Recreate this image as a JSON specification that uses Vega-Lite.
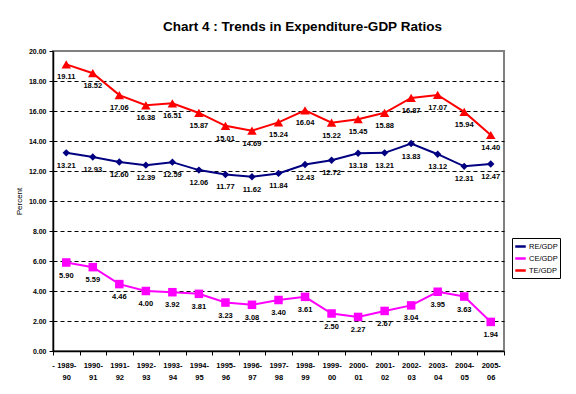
{
  "$schema": "https://vega.github.io/schema/vega-lite/v6.json",
  "autosize": "none",
  "width": 451,
  "height": 300,
  "padding": {"left": 53, "top": 51, "right": 72, "bottom": 43},
  "background": "white",
  "title": {
    "text": "Chart 4 : Trends in Expenditure-GDP Ratios",
    "font": "Liberation Sans",
    "fontSize": 13.5,
    "fontWeight": "bold",
    "color": "black",
    "anchor": "middle",
    "dx": 24,
    "offset": 14
  },
  "config": {
    "view": {"stroke": "#808080", "strokeWidth": 2},
    "font": "Liberation Sans"
  },
  "resolve": {"legend": {"color": "independent", "shape": "independent", "size": "independent"}},
  "data": {
    "values": [
      {"year": "1989-90", "series": "RE/GDP", "value": 13.21},
      {"year": "1990-91", "series": "RE/GDP", "value": 12.93},
      {"year": "1991-92", "series": "RE/GDP", "value": 12.60},
      {"year": "1992-93", "series": "RE/GDP", "value": 12.39},
      {"year": "1993-94", "series": "RE/GDP", "value": 12.59},
      {"year": "1994-95", "series": "RE/GDP", "value": 12.06},
      {"year": "1995-96", "series": "RE/GDP", "value": 11.77},
      {"year": "1996-97", "series": "RE/GDP", "value": 11.62},
      {"year": "1997-98", "series": "RE/GDP", "value": 11.84},
      {"year": "1998-99", "series": "RE/GDP", "value": 12.43},
      {"year": "1999-00", "series": "RE/GDP", "value": 12.72},
      {"year": "2000-01", "series": "RE/GDP", "value": 13.18},
      {"year": "2001-02", "series": "RE/GDP", "value": 13.21},
      {"year": "2002-03", "series": "RE/GDP", "value": 13.83},
      {"year": "2003-04", "series": "RE/GDP", "value": 13.12},
      {"year": "2004-05", "series": "RE/GDP", "value": 12.31},
      {"year": "2005-06", "series": "RE/GDP", "value": 12.47},
      {"year": "1989-90", "series": "CE/GDP", "value": 5.90},
      {"year": "1990-91", "series": "CE/GDP", "value": 5.59},
      {"year": "1991-92", "series": "CE/GDP", "value": 4.46},
      {"year": "1992-93", "series": "CE/GDP", "value": 4.00},
      {"year": "1993-94", "series": "CE/GDP", "value": 3.92},
      {"year": "1994-95", "series": "CE/GDP", "value": 3.81},
      {"year": "1995-96", "series": "CE/GDP", "value": 3.23},
      {"year": "1996-97", "series": "CE/GDP", "value": 3.08},
      {"year": "1997-98", "series": "CE/GDP", "value": 3.40},
      {"year": "1998-99", "series": "CE/GDP", "value": 3.61},
      {"year": "1999-00", "series": "CE/GDP", "value": 2.50},
      {"year": "2000-01", "series": "CE/GDP", "value": 2.27},
      {"year": "2001-02", "series": "CE/GDP", "value": 2.67},
      {"year": "2002-03", "series": "CE/GDP", "value": 3.04},
      {"year": "2003-04", "series": "CE/GDP", "value": 3.95},
      {"year": "2004-05", "series": "CE/GDP", "value": 3.63},
      {"year": "2005-06", "series": "CE/GDP", "value": 1.94},
      {"year": "1989-90", "series": "TE/GDP", "value": 19.11},
      {"year": "1990-91", "series": "TE/GDP", "value": 18.52},
      {"year": "1991-92", "series": "TE/GDP", "value": 17.06},
      {"year": "1992-93", "series": "TE/GDP", "value": 16.38},
      {"year": "1993-94", "series": "TE/GDP", "value": 16.51},
      {"year": "1994-95", "series": "TE/GDP", "value": 15.87},
      {"year": "1995-96", "series": "TE/GDP", "value": 15.01},
      {"year": "1996-97", "series": "TE/GDP", "value": 14.69},
      {"year": "1997-98", "series": "TE/GDP", "value": 15.24},
      {"year": "1998-99", "series": "TE/GDP", "value": 16.04},
      {"year": "1999-00", "series": "TE/GDP", "value": 15.22},
      {"year": "2000-01", "series": "TE/GDP", "value": 15.45},
      {"year": "2001-02", "series": "TE/GDP", "value": 15.88},
      {"year": "2002-03", "series": "TE/GDP", "value": 16.87},
      {"year": "2003-04", "series": "TE/GDP", "value": 17.07},
      {"year": "2004-05", "series": "TE/GDP", "value": 15.94},
      {"year": "2005-06", "series": "TE/GDP", "value": 14.40}
    ]
  },
  "encoding": {
    "x": {
      "field": "year",
      "type": "ordinal",
      "sort": null,
      "scale": {"paddingInner": 0, "paddingOuter": 0},
      "axis": {
        "title": null,
        "labelAngle": 0,
        "labelExpr": "[split(datum.label, '-')[0] + '-', split(datum.label, '-')[1]]",
        "labelFont": "Liberation Sans",
        "labelFontSize": 7.5,
        "labelFontWeight": "bold",
        "labelColor": "black",
        "labelLineHeight": 12,
        "labelPadding": 6,
        "tickBand": "extent",
        "tickColor": "black",
        "tickSize": 4,
        "domainColor": "black",
        "domainWidth": 1.5
      }
    },
    "y": {
      "field": "value",
      "type": "quantitative",
      "scale": {"domain": [0, 20], "nice": false},
      "axis": {
        "title": "Percent",
        "titleFont": "Liberation Sans",
        "titleFontSize": 8,
        "titleFontWeight": "normal",
        "titleColor": "black",
        "titlePadding": 5,
        "values": [0, 2, 4, 6, 8, 10, 12, 14, 16, 18, 20],
        "format": ".2f",
        "labelFont": "Liberation Sans",
        "labelFontSize": 7,
        "labelFontWeight": "bold",
        "labelColor": "black",
        "labelPadding": 3,
        "tickColor": "black",
        "tickSize": 4,
        "domainColor": "black",
        "domainWidth": 1.5,
        "grid": true,
        "gridColor": {"condition": {"test": "datum.value == 20 || datum.value == 0", "value": "transparent"}, "value": "black"},
        "gridDash": [4, 3],
        "gridWidth": 1
      }
    }
  },
  "layer": [
    {
      "mark": {"type": "line", "strokeWidth": 2},
      "encoding": {
        "color": {
          "field": "series",
          "type": "nominal",
          "scale": {"domain": ["RE/GDP", "CE/GDP", "TE/GDP"], "range": ["#000080", "#FF00FF", "#FF0000"]},
          "legend": {
            "title": null,
            "orient": "none",
            "legendX": 459,
            "legendY": 187,
            "strokeColor": "black",
            "fillColor": "white",
            "padding": 2,
            "rowPadding": 0,
            "labelFont": "Liberation Sans",
            "labelFontSize": 7.5,
            "labelColor": "black",
            "symbolType": "stroke",
            "symbolStrokeWidth": 2.5,
            "symbolSize": 110,
            "labelOffset": 2
          }
        }
      }
    },
    {
      "mark": {"type": "point", "filled": true, "opacity": 1},
      "encoding": {
        "color": {
          "field": "series",
          "type": "nominal",
          "scale": {"domain": ["RE/GDP", "CE/GDP", "TE/GDP"], "range": ["#000080", "#FF00FF", "#FF0000"]},
          "legend": null
        },
        "shape": {
          "field": "series",
          "type": "nominal",
          "scale": {"domain": ["RE/GDP", "CE/GDP", "TE/GDP"], "range": ["diamond", "square", "triangle-up"]},
          "legend": null
        },
        "size": {
          "field": "series",
          "type": "nominal",
          "scale": {"domain": ["RE/GDP", "CE/GDP", "TE/GDP"], "range": [55, 90, 40]},
          "legend": null
        }
      }
    },
    {
      "mark": {"type": "text", "dy": 13, "font": "Liberation Sans", "fontSize": 7.5, "fontWeight": "bold", "color": "black"},
      "encoding": {
        "text": {"field": "value", "type": "quantitative", "format": ".2f"}
      }
    }
  ]
}
